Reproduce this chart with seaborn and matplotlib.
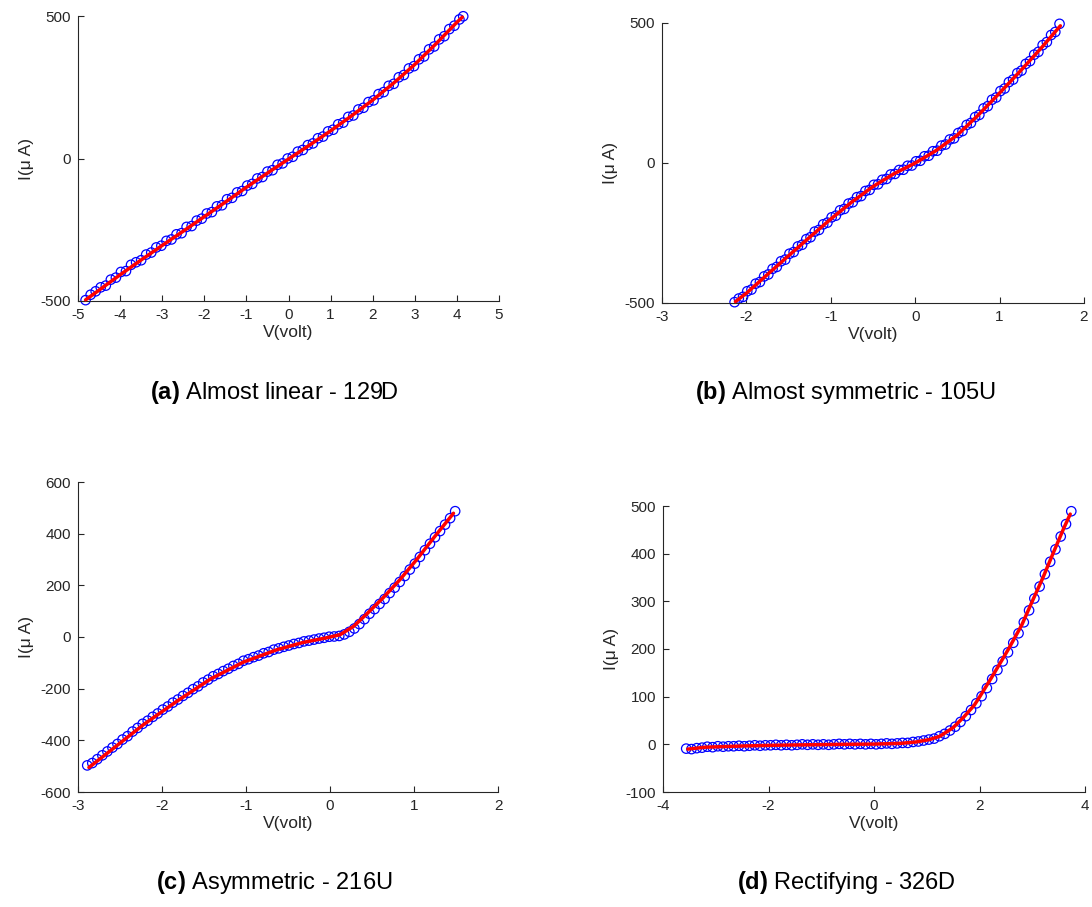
import matplotlib
matplotlib.use("Agg")
import matplotlib.pyplot as plt
import seaborn as sns

# ---- (a) Almost linear - 129D ----
v_129d = [-4.82, -4.70, -4.58, -4.46, -4.34, -4.22, -4.10, -3.98, -3.86, -3.74,
          -3.62, -3.50, -3.38, -3.26, -3.14, -3.02, -2.90, -2.78, -2.66, -2.54,
          -2.42, -2.30, -2.18, -2.06, -1.94, -1.82, -1.70, -1.58, -1.46, -1.34,
          -1.22, -1.10, -0.98, -0.86, -0.74, -0.62, -0.50, -0.38, -0.26, -0.14,
          -0.02, 0.10, 0.22, 0.34, 0.46, 0.58, 0.70, 0.82, 0.94, 1.06,
          1.18, 1.30, 1.42, 1.54, 1.66, 1.78, 1.90, 2.02, 2.14, 2.26,
          2.38, 2.50, 2.62, 2.74, 2.86, 2.98, 3.10, 3.22, 3.34, 3.46,
          3.58, 3.70, 3.82, 3.94, 4.06, 4.15]
i_129d = [-497, -478, -466, -452, -446, -425, -418, -398, -395, -373,
          -364, -357, -337, -330, -312, -306, -289, -284, -266, -262,
          -240, -237, -218, -211, -193, -188, -168, -164, -143, -138,
          -119, -114, -95, -89, -70, -65, -46, -41, -22, -17,
          0, 6, 24, 30, 47, 53, 71, 77, 95, 101,
          120, 126, 146, 151, 172, 178, 198, 204, 226, 233,
          255, 262, 285, 293, 316, 324, 348, 358, 383, 393,
          418, 429, 454, 466, 488, 499]
v_129d_fit = [-4.82, -4.5, -4.0, -3.5, -3.0, -2.5, -2.0, -1.5, -1.0, -0.5,
              0.0, 0.5, 1.0, 1.5, 2.0, 2.5, 3.0, 3.5, 4.0, 4.13]
i_129d_fit = [-496, -462, -408, -356, -305, -255, -204, -153, -101, -51,
              -2, 47, 97, 150, 205, 265, 330, 402, 478, 496]

# ---- (b) Almost symmetric - 105U ----
v_105u = [-2.14, -2.09, -2.04, -1.99, -1.94, -1.89, -1.84, -1.79, -1.74, -1.69,
          -1.64, -1.59, -1.54, -1.49, -1.44, -1.39, -1.34, -1.29, -1.24, -1.19,
          -1.14, -1.09, -1.04, -0.99, -0.94, -0.89, -0.84, -0.79, -0.74, -0.69,
          -0.64, -0.59, -0.54, -0.49, -0.44, -0.39, -0.34, -0.29, -0.24, -0.19,
          -0.14, -0.09, -0.04, 0.01, 0.06, 0.11, 0.16, 0.21, 0.26, 0.31,
          0.36, 0.41, 0.46, 0.51, 0.56, 0.61, 0.66, 0.71, 0.76, 0.81,
          0.86, 0.91, 0.96, 1.01, 1.06, 1.11, 1.16, 1.21, 1.26, 1.31,
          1.36, 1.41, 1.46, 1.51, 1.56, 1.61, 1.66, 1.71]
i_105u = [-497, -484, -478, -458, -452, -431, -425, -405, -398, -378,
          -371, -351, -345, -324, -318, -298, -292, -272, -265, -245,
          -239, -219, -213, -194, -188, -169, -164, -145, -140, -122,
          -118, -100, -96, -78, -76, -60, -57, -41, -39, -25,
          -24, -10, -9, 6, 8, 24, 26, 42, 44, 62,
          66, 84, 88, 107, 114, 136, 143, 164, 172, 195,
          203, 226, 234, 257, 266, 289, 298, 321, 330, 354,
          364, 387, 397, 421, 432, 457, 468, 497]
v_105u_fit = [-2.13, -2.0, -1.75, -1.5, -1.25, -1.0, -0.75, -0.5, -0.25, 0.0,
              0.25, 0.5, 0.75, 1.0, 1.25, 1.5, 1.72]
i_105u_fit = [-495, -465, -398, -331, -265, -200, -139, -84, -38, 0,
              45, 100, 172, 250, 330, 413, 490]

# ---- (c) Asymmetric - 216U ----
v_216u = [-2.89, -2.83, -2.77, -2.71, -2.65, -2.59, -2.53, -2.47, -2.41, -2.35,
          -2.29, -2.23, -2.17, -2.11, -2.05, -1.99, -1.93, -1.87, -1.81, -1.75,
          -1.69, -1.63, -1.57, -1.51, -1.45, -1.39, -1.33, -1.27, -1.21, -1.15,
          -1.09, -1.03, -0.97, -0.91, -0.85, -0.79, -0.73, -0.67, -0.61, -0.55,
          -0.49, -0.43, -0.37, -0.31, -0.25, -0.19, -0.13, -0.07, -0.01, 0.05,
          0.11, 0.17, 0.23, 0.29, 0.35, 0.41, 0.47, 0.53, 0.59, 0.65,
          0.71, 0.77, 0.83, 0.89, 0.95, 1.01, 1.07, 1.13, 1.19, 1.25,
          1.31, 1.37, 1.43, 1.49]
i_216u = [-497, -488, -473, -458, -443, -428, -414, -397, -384, -366,
          -352, -336, -324, -309, -296, -281, -269, -254, -242, -228,
          -216, -202, -191, -176, -165, -152, -143, -132, -123, -112,
          -104, -92, -86, -78, -72, -63, -58, -49, -44, -38,
          -33, -27, -23, -17, -14, -10, -6, -3, 1, 2,
          4, 10, 20, 33, 50, 69, 90, 108, 128, 147,
          170, 191, 213, 236, 261, 284, 310, 336, 361, 386,
          410, 435, 460, 487]
v_216u_fit = [-2.87, -2.61, -2.22, -1.82, -1.42, -1.03, -0.63, -0.32, -0.04, 0.12,
              0.28, 0.44, 0.63, 0.83, 1.03, 1.23, 1.47]
i_216u_fit = [-505, -439, -339, -248, -162, -97, -49, -21, -3, 9,
              41, 90, 151, 221, 299, 382, 479]

# ---- (d) Rectifying - 326D ----
v_326d = [-3.56, -3.46, -3.36, -3.26, -3.16, -3.06, -2.96, -2.86, -2.76, -2.66,
          -2.56, -2.46, -2.36, -2.26, -2.16, -2.06, -1.96, -1.86, -1.76, -1.66,
          -1.56, -1.46, -1.36, -1.26, -1.16, -1.06, -0.96, -0.86, -0.76, -0.66,
          -0.56, -0.46, -0.36, -0.26, -0.16, -0.06, 0.04, 0.14, 0.24, 0.34,
          0.44, 0.54, 0.64, 0.74, 0.84, 0.94, 1.04, 1.14, 1.24, 1.34,
          1.44, 1.54, 1.64, 1.74, 1.84, 1.94, 2.04, 2.14, 2.24, 2.34,
          2.44, 2.54, 2.64, 2.74, 2.84, 2.94, 3.04, 3.14, 3.24, 3.34,
          3.44, 3.54, 3.64, 3.74]
i_326d = [-9, -10, -8, -7, -5, -6, -4, -5, -4, -4,
          -3, -4, -3, -2, -3, -2, -2, -1, -2, -1,
          -2, -1, 0, -1, 0, -1, 0, -1, 0, 1,
          0, 1, 0, 1, 0, 1, 0, 1, 2, 1,
          2, 3, 3, 5, 6, 8, 10, 12, 17, 22,
          29, 37, 47, 59, 72, 86, 101, 118, 137, 156,
          174, 193, 213, 233, 256, 281, 306, 331, 357, 383,
          409, 436, 462, 489]
v_326d_fit = [-3.53, -3.2, -2.5, -1.9, -1.3, -0.6, 0.0, 0.5, 0.8, 1.05,
              1.25, 1.5, 1.7, 1.9, 2.0, 2.25, 2.55, 2.8, 3.0, 3.2,
              3.4, 3.6, 3.72]
i_326d_fit = [-10, -6, -3.5, -2, -1, 0, 0.5, 2, 5, 10,
              17, 35, 57, 82, 99, 144, 200, 250, 300, 349,
              402, 454, 483]

# Tick values per panel
xticks_a = [-5, -4, -3, -2, -1, 0, 1, 2, 3, 4, 5]
yticks_a = [-500, 0, 500]
xticks_b = [-3, -2, -1, 0, 1, 2]
yticks_b = [-500, 0, 500]
xticks_c = [-3, -2, -1, 0, 1, 2]
yticks_c = [-600, -400, -200, 0, 200, 400, 600]
xticks_d = [-4, -2, 0, 2, 4]
yticks_d = [-100, 0, 100, 200, 300, 400, 500]

captions = [r"$\mathbf{(a)}$ Almost linear - 129D",
            r"$\mathbf{(b)}$ Almost symmetric - 105U",
            r"$\mathbf{(c)}$ Asymmetric - 216U",
            r"$\mathbf{(d)}$ Rectifying - 326D"]

sns.set_theme(style="ticks")
plt.rcParams.update({
    "font.family": ["Liberation Sans", "DejaVu Sans"],
    "mathtext.fontset": "custom",
    "mathtext.rm": "Liberation Sans",
    "mathtext.bf": "Liberation Sans:bold",
    "mathtext.it": "Liberation Sans:italic",
    "axes.unicode_minus": False,
    "axes.edgecolor": "#262626",
    "axes.linewidth": 0.8,
    "text.color": "#262626",
    "axes.labelcolor": "#262626",
})

W, H = 1092, 907
fig = plt.figure(figsize=(W / 100, H / 100), dpi=100)

# panel boxes in pixels: left, right, top, bottom; caption centre x, y
panels = [
    (v_129d, i_129d, v_129d_fit, i_129d_fit, xticks_a, yticks_a, captions[0],
     (78, 499, 16, 301), (274, 393)),
    (v_105u, i_105u, v_105u_fit, i_105u_fit, xticks_b, yticks_b, captions[1],
     (662, 1084, 23, 303), (845, 393)),
    (v_216u, i_216u, v_216u_fit, i_216u_fit, xticks_c, yticks_c, captions[2],
     (78, 498, 482, 792), (274, 882)),
    (v_326d, i_326d, v_326d_fit, i_326d_fit, xticks_d, yticks_d, captions[3],
     (663, 1085, 506, 792), (846, 882)),
]

for v, i, vf, ifit, xt, yt, cap, (l, r, t, b), (cx, cy) in panels:
    ax = fig.add_axes([l / W, 1 - b / H, (r - l) / W, (b - t) / H])
    sns.scatterplot(x=v, y=i, ax=ax, marker="o", s=46, facecolor="none",
                    edgecolor="#0000ff", linewidth=0.9, clip_on=False,
                    zorder=2, legend=False)
    sns.lineplot(x=vf, y=ifit, ax=ax, color="#ff0000", linewidth=2.5,
                 zorder=3, clip_on=False, legend=False)
    ax.set_xlim(xt[0], xt[-1])
    ax.set_ylim(yt[0], yt[-1])
    ax.set_xticks(xt)
    ax.set_yticks(yt)
    ax.set_xlabel("V(volt)", fontsize=12.5, labelpad=2)
    ax.set_ylabel("I(μ A)", fontsize=12.5, labelpad=5)
    sns.despine(ax=ax)
    ax.tick_params(direction="in", length=4, width=0.8, colors="#262626",
                   labelsize=11, pad=5)
    fig.text(cx / W, 1 - cy / H, cap, ha="center", va="center",
             fontsize=17, color="black")

fig.savefig("out.png", dpi=100, facecolor="white")
